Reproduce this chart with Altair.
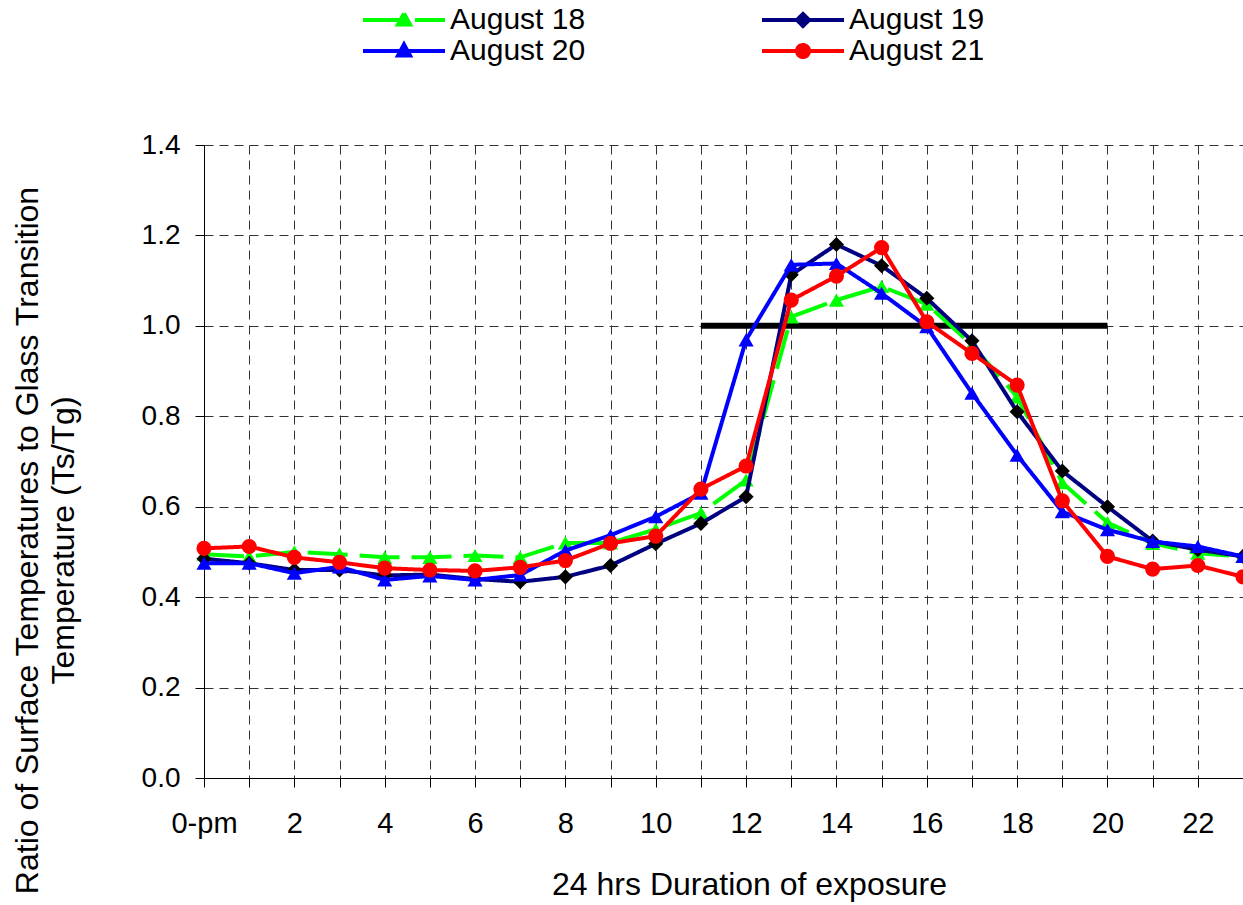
import altair as alt
import pandas as pd

hours = list(range(24))
series_names = ["August 18", "August 19", "August 20", "August 21"]

aug18 = [0.495, 0.490, 0.500, 0.495, 0.488, 0.488, 0.492, 0.488, 0.520, 0.520, 0.550, 0.586,
         0.659, 1.020, 1.057, 1.087, 1.048, 0.958, 0.843, 0.653, 0.565, 0.519, 0.497, 0.490]
aug19 = [0.485, 0.475, 0.460, 0.460, 0.448, 0.450, 0.440, 0.434, 0.445, 0.470, 0.518, 0.563,
         0.622, 1.113, 1.180, 1.133, 1.061, 0.967, 0.810, 0.679, 0.600, 0.524, 0.505, 0.490]
aug20 = [0.475, 0.475, 0.453, 0.467, 0.438, 0.447, 0.438, 0.449, 0.503, 0.537, 0.578, 0.630,
         0.969, 1.135, 1.138, 1.072, 0.998, 0.851, 0.714, 0.589, 0.549, 0.523, 0.512, 0.490]
aug21 = [0.508, 0.512, 0.488, 0.477, 0.464, 0.460, 0.458, 0.466, 0.481, 0.519, 0.535, 0.639,
         0.690, 1.057, 1.110, 1.173, 1.009, 0.939, 0.869, 0.613, 0.490, 0.462, 0.470, 0.445]
series_values = [aug18, aug19, aug20, aug21]

line_colors = ["#00FF00", "#000080", "#0000FF", "#FF0000"]
marker_colors = ["#00FF00", "#000000", "#0000FF", "#FF0000"]
marker_shapes = ["triangle-up", "diamond", "triangle-up", "circle"]
legend_shapes = [
    "M-4.1,0H4.1M0,-0.65L0.6,0.45L-0.6,0.45Z",
    "M-4.1,0H4.1M0,-0.6L0.6,0L0,0.6L-0.6,0Z",
    "M-4.1,0H4.1M0,-0.65L0.6,0.45L-0.6,0.45Z",
    "M-4.1,0H4.1M0.6,0A0.6,0.6,0,1,1,-0.6,0A0.6,0.6,0,1,1,0.6,0Z",
]
line_dashes = [[40, 12], [1, 0], [1, 0], [1, 0]]

ref_x = [11, 20]
ref_y = [1.0, 1.0]

x_tick_values = list(range(24))
y_tick_values = [0.0, 0.2, 0.4, 0.6, 0.8, 1.0, 1.2, 1.4]

rows = []
for name, vals in zip(series_names, series_values):
    for h, v in zip(hours, vals):
        rows.append({"hour": h, "ratio": v, "series": name})
df = pd.DataFrame(rows)
ref_df = pd.DataFrame({"hour": ref_x, "ratio": ref_y})

FONT = "Liberation Sans"

x_scale = alt.Scale(domain=[0, 23], nice=False, zero=False)
y_scale = alt.Scale(domain=[0, 1.4], nice=False)

x_axis = alt.Axis(
    values=x_tick_values,
    labelExpr="datum.value == 0 ? '0-pm' : (datum.value % 2 == 0 ? datum.label : '')",
    title="24 hrs Duration of exposure",
    titleFont=FONT, titleFontSize=32, titleFontWeight="normal", titleColor="black",
    titleX=545, titleY=116, titleBaseline="alphabetic",
    labelFont=FONT, labelFontSize=29, labelColor="black", labelPadding=22,
    labelFlush=False, labelOverlap=False,
    tickSize=9, tickColor="black", domainColor="black", domainWidth=1,
    grid=True, gridDash=[9, 6], gridColor="#333333", gridWidth=1,
)
y_axis = alt.Axis(
    values=y_tick_values, format=".1f",
    title=["Ratio of Surface Temperatures to Glass Transition", "Temperature (Ts/Tg)"],
    titleFont=FONT, titleFontSize=32, titleFontWeight="normal", titleColor="black",
    titleAngle=270, titleAlign="center", titleBaseline="middle", titleLineHeight=36,
    titleX=-177, titleY=395,
    labelFont=FONT, labelFontSize=28, labelColor="black", labelPadding=15,
    labelFlush=False,
    tickSize=9, tickColor="black", domainColor="black", domainWidth=1,
    grid=True, gridDash=[9, 6], gridColor="#333333", gridWidth=1,
)

x_enc = alt.X("hour:Q", scale=x_scale, axis=x_axis)
y_enc = alt.Y("ratio:Q", scale=y_scale, axis=y_axis)

color_scale = alt.Scale(domain=series_names, range=marker_colors)
stroke_scale = alt.Scale(domain=series_names, range=line_colors)
shape_scale = alt.Scale(domain=series_names, range=legend_shapes)
dash_scale = alt.Scale(domain=series_names, range=line_dashes)

leg = alt.Legend(
    title=None, orient="none", legendX=185, legendY=-140, columns=2, direction="horizontal",
    columnPadding=168, rowPadding=1, padding=0,
    labelFont=FONT, labelFontSize=30, labelColor="black", labelOffset=31, labelLimit=0,
    symbolSize=400, symbolStrokeWidth=4, symbolOpacity=1,
)

base = alt.Chart(df)

legend_layer = base.transform_filter("false").mark_point(filled=True, opacity=1, strokeWidth=4).encode(
    x=x_enc, y=y_enc,
    color=alt.Color("series:N", scale=color_scale, legend=leg),
    stroke=alt.Stroke("series:N", scale=stroke_scale, legend=leg),
    shape=alt.Shape("series:N", scale=shape_scale, legend=leg),
    strokeDash=alt.StrokeDash("series:N", scale=dash_scale, legend=leg),
)

ref_layer = alt.Chart(ref_df).mark_line(color="black", strokeWidth=6, strokeCap="butt").encode(
    x=x_enc, y=y_enc
)

layers = [legend_layer, ref_layer]
for name, shp in zip(series_names, marker_shapes):
    sub = base.transform_filter(alt.datum.series == name)
    line = sub.mark_line(strokeWidth=4).encode(
        x=x_enc, y=y_enc,
        stroke=alt.Stroke("series:N", scale=stroke_scale, legend=None),
        strokeDash=alt.StrokeDash("series:N", scale=dash_scale, legend=None),
    )
    pts = sub.mark_point(filled=True, shape=shp, size=230, opacity=1).encode(
        x=x_enc, y=y_enc,
        color=alt.Color("series:N", scale=color_scale, legend=None),
    )
    layers += [line, pts]

chart = alt.layer(*layers).properties(
    width=1039, height=633,
    padding={"left": 204, "top": 145, "right": 0, "bottom": 127},
    autosize=alt.AutoSizeParams(type="none"),
    background="white",
).configure(font=FONT).configure_view(stroke="transparent")

chart.save("out.html", embed_options={"renderer": "svg", "actions": False})
